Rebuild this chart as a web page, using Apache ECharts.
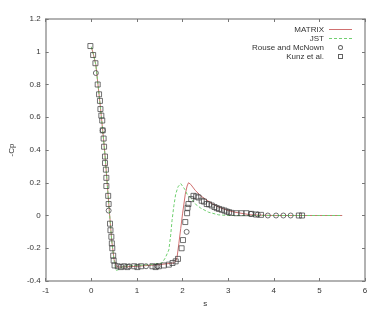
<!DOCTYPE html>
<html>
<head>
<meta charset="utf-8">
<script src="https://cdn.jsdelivr.net/npm/echarts@6/dist/echarts.min.js"></script>
<style>html,body{margin:0;padding:0;background:#fff}#c{width:382px;height:317px}</style>
</head>
<body>
<div id="c"></div>
<script>
// MATRIX (red solid line)
const matrixS  = [0, 0.05, 0.1, 0.15, 0.2, 0.25, 0.3, 0.35, 0.4, 0.45, 0.5, 0.55, 0.6, 1.0, 1.5, 1.8, 1.85, 1.88, 1.92, 1.96, 2.0, 2.06, 2.1, 2.13, 2.18, 2.28, 2.4, 2.5, 2.65, 2.8, 3.0, 3.15, 3.5, 4.0, 4.5, 5.0, 5.5];
const matrixCp = [1.03, 0.98, 0.92, 0.79, 0.66, 0.52, 0.37, 0.19, 0.01, -0.16, -0.27, -0.31, -0.315, -0.31, -0.3, -0.29, -0.28, -0.255, -0.17, -0.08, 0.01, 0.13, 0.18, 0.2, 0.19, 0.153, 0.12, 0.1, 0.072, 0.05, 0.03, 0.02, 0.004, 0, 0, 0, 0];
// JST (green dashed line)
const jstS  = [0, 0.05, 0.1, 0.15, 0.2, 0.25, 0.3, 0.35, 0.4, 0.45, 0.5, 0.55, 0.6, 0.7, 1.0, 1.3, 1.55, 1.62, 1.7, 1.74, 1.77, 1.81, 1.85, 1.9, 1.96, 2.0, 2.05, 2.1, 2.2, 2.28, 2.4, 2.57, 2.79, 3.0, 4.0, 5.0, 5.5];
const jstCp = [1.03, 0.98, 0.92, 0.79, 0.66, 0.52, 0.37, 0.19, 0.01, -0.16, -0.28, -0.335, -0.33, -0.31, -0.305, -0.3, -0.29, -0.26, -0.21, -0.12, -0.03, 0.06, 0.13, 0.175, 0.195, 0.19, 0.16, 0.13, 0.1, 0.07, 0.045, 0.02, 0.004, 0, 0, 0, 0];
// Rouse and McNown (circles)
const rouseS  = [0.1, 0.25, 0.38, 0.83, 1.2, 1.45, 2.09, 3.5, 3.65, 3.87, 4.05, 4.21, 4.37];
const rouseCp = [0.87, 0.52, 0.03, -0.31, -0.31, -0.31, -0.10, 0.01, 0.006, 0, 0, 0, 0];
// Kunz et al. (squares)
const kunzS  = [-0.02, 0.04, 0.09, 0.14, 0.17, 0.19, 0.20, 0.22, 0.24, 0.25, 0.27, 0.28, 0.30, 0.30, 0.32, 0.33, 0.33, 0.37, 0.38, 0.41, 0.42, 0.44, 0.45, 0.46, 0.48, 0.49, 0.51,
  0.58, 0.65, 0.72, 0.79, 0.94, 1.01, 1.09, 1.34, 1.41, 1.48, 1.59, 1.70, 1.78, 1.85,
  1.90, 1.98, 2.01, 2.06, 2.10, 2.11, 2.13, 2.19, 2.24, 2.30, 2.35, 2.42, 2.47, 2.53, 2.58, 2.64, 2.70, 2.75, 2.80, 2.86, 2.92, 2.97, 3.02, 3.07, 3.18, 3.29, 3.40, 3.51, 3.61, 3.72, 4.55, 4.62];
const kunzCp = [1.035, 0.98, 0.93, 0.80, 0.74, 0.70, 0.65, 0.61, 0.58, 0.52, 0.47, 0.42, 0.36, 0.32, 0.28, 0.23, 0.18, 0.12, 0.07, -0.05, -0.09, -0.13, -0.17, -0.20, -0.245, -0.275, -0.305,
  -0.31, -0.315, -0.31, -0.315, -0.31, -0.315, -0.31, -0.31, -0.315, -0.31, -0.305, -0.30, -0.29, -0.28,
  -0.265, -0.20, -0.15, -0.04, 0.014, 0.047, 0.07, 0.10, 0.12, 0.116, 0.11, 0.09, 0.085, 0.07, 0.068, 0.061, 0.052, 0.045, 0.04, 0.035, 0.03, 0.024, 0.02, 0.016, 0.014, 0.014, 0.014, 0.01, 0.006, 0.004, 0, 0];
// axis ticks
const xMin = -1, xMax = 6, xStep = 1;
const yMin = -0.4, yMax = 1.2, yStep = 0.2;

const zip = (a, b) => a.map((v, i) => [v, b[i]]);
const FONT = 'Liberation Sans';
const axisCol = '#999';
const red = '#d07070', green = '#70d070', mark = '#3a3a3a';
// legend samples inside a 23x7 box (corner dots fix the box)
const box = 'M0,0h0.01v0.01h-0.01Z M23,7h-0.01v-0.01h0.01Z ';
const solidIcon = 'path://' + box + 'M0,3h23v1h-23Z';
const dashedIcon = 'path://' + box + 'M0,3h3v1h-3Z M5,3h3v1h-3Z M10,3h3v1h-3Z M15,3h3v1h-3Z M20,3h3v1h-3Z';
const circleIcon = 'path://' + box + 'M11.5,1a2.5,2.5 0 1,1 0,5a2.5,2.5 0 1,1 0,-5Z M11.5,1.9a1.6,1.6 0 1,0 0,3.2a1.6,1.6 0 1,0 0,-3.2Z';
const squareIcon = 'path://' + box + 'M9,1h5v5h-5Z M10,2v3h3v-3Z';
const chart = echarts.init(document.getElementById('c'), null, {renderer: 'canvas'});
const baseAxis = {
  axisLine: {show: true, onZero: false, lineStyle: {color: axisCol, width: 1.5}},
  axisTick: {show: true, inside: true, length: 3, lineStyle: {color: '#777', width: 1}},
  splitLine: {show: false},
};
chart.setOption({
  animation: false,
  backgroundColor: '#fff',
  textStyle: {fontFamily: FONT},
  grid: {left: 41, right: 17, top: 19, bottom: 36},
  legend: {
    orient: 'vertical', right: 25, top: 20, align: 'right',
    itemWidth: 23, itemHeight: 7, itemGap: 0,
    textStyle: {fontSize: 8, lineHeight: 9, color: '#333', fontFamily: FONT},
    data: [
      {name: 'MATRIX', icon: solidIcon, itemStyle: {color: red, borderWidth: 0}},
      {name: 'JST', icon: dashedIcon, itemStyle: {color: green, borderWidth: 0}},
      {name: 'Rouse and McNown', icon: circleIcon, itemStyle: {color: mark, borderWidth: 0}},
      {name: 'Kunz et al.', icon: squareIcon, itemStyle: {color: mark, borderWidth: 0}}
    ]
  },
  xAxis: [
    Object.assign({}, baseAxis, {type: 'value', min: xMin, max: xMax, interval: xStep,
      name: 's', nameLocation: 'middle', nameGap: 19, nameTextStyle: {fontSize: 8, color: '#333'},
      axisLabel: {fontSize: 8, color: '#333', margin: 6}}),
    Object.assign({}, baseAxis, {type: 'value', position: 'top', min: xMin, max: xMax, interval: xStep,
      axisLabel: {show: false}})
  ],
  yAxis: [
    Object.assign({}, baseAxis, {type: 'value', min: yMin, max: yMax, interval: yStep,
      name: '-Cp', nameLocation: 'middle', nameRotate: 90, nameGap: 28, nameTextStyle: {fontSize: 8, color: '#333'},
      axisLabel: {fontSize: 8, color: '#333', margin: 5}}),
    Object.assign({}, baseAxis, {type: 'value', position: 'right', min: yMin, max: yMax, interval: yStep,
      axisLabel: {show: false}})
  ],
  series: [
    {name: 'MATRIX', type: 'line', data: zip(matrixS, matrixCp), showSymbol: false, symbol: 'none',
      lineStyle: {color: red, width: 1}, itemStyle: {color: red}, z: 3},
    {name: 'JST', type: 'line', data: zip(jstS, jstCp), showSymbol: false, symbol: 'none',
      lineStyle: {color: green, width: 1, type: [3, 2]}, itemStyle: {color: green}, z: 3},
    {name: 'Rouse and McNown', type: 'scatter', data: zip(rouseS, rouseCp), symbol: 'circle', symbolSize: 5,
      itemStyle: {color: 'rgba(255,255,255,0)', borderColor: mark, borderWidth: 0.9}, z: 4},
    {name: 'Kunz et al.', type: 'scatter', data: zip(kunzS, kunzCp), symbol: 'rect', symbolSize: 5,
      itemStyle: {color: 'rgba(255,255,255,0)', borderColor: mark, borderWidth: 0.9}, z: 4}
  ]
});
</script>
</body>
</html>
